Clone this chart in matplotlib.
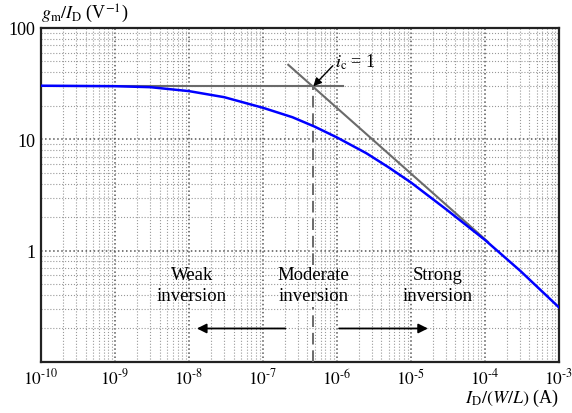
import numpy as np
import matplotlib
matplotlib.use("Agg")
import matplotlib.pyplot as plt
from matplotlib.ticker import LogLocator, FixedLocator, NullFormatter

plt.rcParams['font.family'] = ['Liberation Serif', 'DejaVu Serif']
plt.rcParams['mathtext.fontset'] = 'stix'

# gm/ID curve
id_wl = [1e-10, 1e-9, 3e-9, 1e-8, 3e-8, 1e-7, 2.5e-7, 5e-7, 1e-6,
         2.5e-6, 5e-6, 1e-5, 3e-5, 1e-4, 3e-4, 1e-3]
gm_id = [30.3, 30.0, 29.4, 27.1, 23.9, 19.2, 15.8, 13.0, 10.4,
         7.5, 5.6, 4.1, 2.35, 1.25, 0.66, 0.31]

# asymptotes
weak_x = [1e-10, 1.2e-6]
weak_y = [30, 30]
strong_x = [2.2e-7, 1.1e-4]
strong_y = [46.7, 1.2]
ic1_x = 4.8e-7
ic1_y = 30

xticks = [1e-10, 1e-9, 1e-8, 1e-7, 1e-6, 1e-5, 1e-4, 1e-3]
xticklabels = [r'$10^{\text{-}10}$', r'$10^{\text{-}9}$', r'$10^{\text{-}8}$',
               r'$10^{\text{-}7}$', r'$10^{\text{-}6}$', r'$10^{\text{-}5}$',
               r'$10^{\text{-}4}$', r'$10^{\text{-}3}$']
yticks = [1, 10, 100]
yticklabels = ['1', '10', '100']

fig = plt.figure(figsize=(5.72, 4.14), dpi=100)
ax = fig.add_axes([0.0717, 0.1232, 0.9053, 0.8068])

ax.set_xscale('log')
ax.set_yscale('log')
ax.set_xlim(1e-10, 1e-3)
ax.set_ylim(0.1, 100)

ax.plot(weak_x, weak_y, color='#6a6a6a', lw=1.5, zorder=3)
ax.plot(strong_x, strong_y, color='#6a6a6a', lw=1.5, zorder=3)
# dashed ic = 1 line, broken around the "Moderate inversion" label
ax.plot([ic1_x, ic1_x], [0.1, 0.31], color='#6a6a6a', lw=1.4,
        linestyle=(0, (6, 3)), zorder=3)
ax.plot([ic1_x, ic1_x], [0.75, ic1_y], color='#6a6a6a', lw=1.4,
        linestyle=(0, (6, 3)), zorder=3)
ax.plot(id_wl, gm_id, color='#0000ff', lw=1.8, zorder=4)

# i_c = 1 marker
ax.annotate('', xy=(ic1_x, ic1_y), xytext=(8.8e-7, 45.8),
            arrowprops=dict(arrowstyle='-|>', color='black', lw=1.0,
                            mutation_scale=12, shrinkA=0, shrinkB=0))
ax.text(9.4e-7, 50.7, r'$i_\mathrm{c}$ = 1', fontsize=13, ha='left', va='center')

# region labels
for lx, lab in [(1.1e-8, 'Weak\ninversion'), (ic1_x, 'Moderate\ninversion'),
                (2.3e-5, 'Strong\ninversion')]:
    ax.text(lx, 0.49, lab, fontsize=13.5, ha='center', va='center',
            linespacing=1.3, zorder=5)

ax.annotate('', xy=(1.28e-8, 0.2), xytext=(2.0e-7, 0.2),
            arrowprops=dict(arrowstyle='-|>', color='black', lw=1.3,
                            mutation_scale=14, shrinkA=0, shrinkB=0))
ax.annotate('', xy=(1.7e-5, 0.2), xytext=(1.07e-6, 0.2),
            arrowprops=dict(arrowstyle='-|>', color='black', lw=1.3,
                            mutation_scale=14, shrinkA=0, shrinkB=0))

ax.xaxis.set_major_locator(FixedLocator(xticks))
ax.set_xticklabels(xticklabels)
ax.yaxis.set_major_locator(FixedLocator(yticks))
ax.set_yticklabels(yticklabels)
ax.xaxis.set_minor_locator(LogLocator(base=10, subs=np.arange(2, 10), numticks=20))
ax.yaxis.set_minor_locator(LogLocator(base=10, subs=np.arange(2, 10), numticks=20))
ax.xaxis.set_minor_formatter(NullFormatter())
ax.yaxis.set_minor_formatter(NullFormatter())
ax.tick_params(which='both', length=0)
ax.tick_params(axis='x', pad=4, labelsize=12.5)
ax.tick_params(axis='y', pad=4, labelsize=13)

ax.grid(True, which='major', linestyle=':', color='#555555', lw=1.1)
ax.grid(True, which='minor', linestyle=':', color='#999999', lw=0.8)
for s in ax.spines.values():
    s.set_linewidth(1.6)
    s.set_color('#222222')

ax.text(0.0, 1.012, r'$g_\mathrm{m}/I_\mathrm{D}$ (V$^{-1}$)', transform=ax.transAxes,
        fontsize=13, ha='left', va='bottom')
fig.text(0.977, 0.012, r'$I_\mathrm{D}/(W/L)$ (A)', fontsize=13, ha='right', va='bottom')

fig.savefig('out.png', dpi=100)
